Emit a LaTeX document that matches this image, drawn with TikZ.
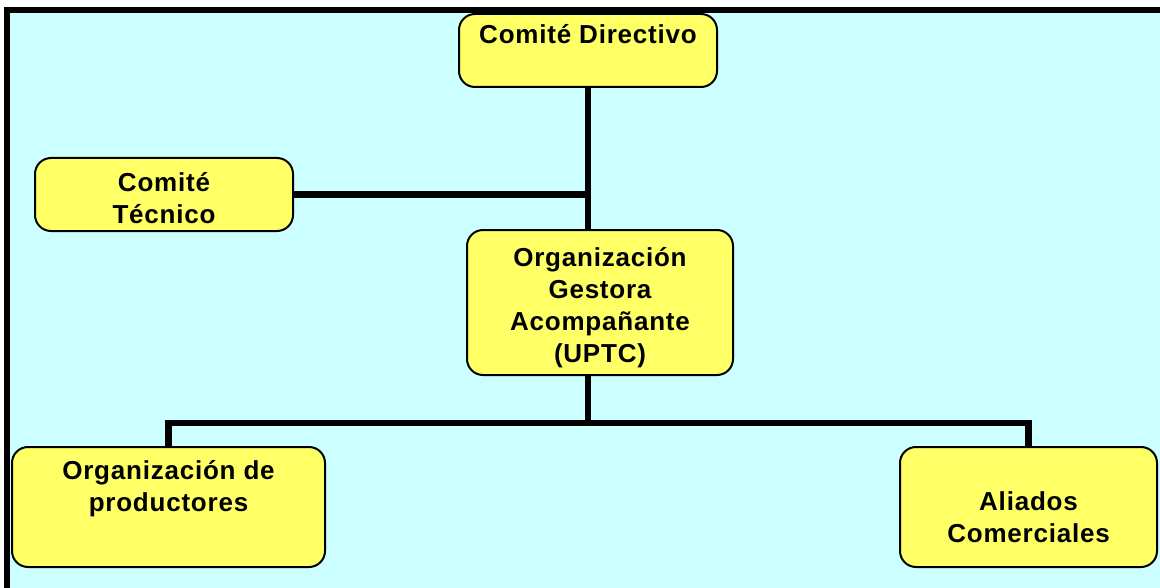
\documentclass[tikz,border=0pt]{standalone}
\usepackage{fontspec}
\setmainfont{Liberation Sans}[LetterSpace=3]
\usepackage{tikz}
\usetikzlibrary{calc}

\definecolor{bgcyan}{HTML}{CCFFFF}
\definecolor{boxyellow}{HTML}{FFFF66}

\newcommand{\orgtext}[2]{\raisebox{#1}[0pt][0pt]{\begin{tabular}{@{}c@{}}#2\end{tabular}}}

\tikzset{
	orgbox/.style={draw=black, line width=1pt, fill=boxyellow, rounded corners=8pt, inner sep=0pt,
		font=\bfseries\fontsize{13}{16}\selectfont},
	link/.style={line width=3.2pt}
}

\begin{document}
\begin{tikzpicture}[x=0.5pt, y=-0.5pt]
	\useasboundingbox (0,0) rectangle (1160,588);

	%Frame
	\fill[black] (4,7) rectangle (1160,588);
	\fill[bgcyan] (10,13) rectangle (1160,588);

	%Boxes
	\node[orgbox, minimum width=129pt, minimum height=36.5pt] (directivo) at (588,50.5) {\orgtext{3.8pt}{Comité Directivo}};
	\node[orgbox, minimum width=129pt, minimum height=36.5pt] (tecnico) at (164,194.5) {\orgtext{-6.4pt}{Comité\\Técnico}};
	\node[orgbox, minimum width=133pt, minimum height=72.5pt] (gestora) at (600,302.5) {\orgtext{-5.9pt}{Organización\\Gestora\\Acompañante\\(UPTC)}};
	\node[orgbox, minimum width=156.5pt, minimum height=60pt] (productores) at (168.5,507) {\orgtext{5.8pt}{Organización de\\productores}};
	\node[orgbox, minimum width=128.5pt, minimum height=60pt] (aliados) at (1028.5,507) {\orgtext{-9.7pt}{Aliados\\Comerciales}};

	%Connectors
	\coordinate (bus) at (588,423);
	\draw[link] (directivo.south) -- (directivo.south |- gestora.north);
	\draw[link] (tecnico.east) -- (tecnico.east -| directivo.south);
	\draw[link] (directivo.south |- gestora.south) -- (bus);
	\draw[link] (productores.north) |- (bus) -| (aliados.north);

\end{tikzpicture}
\end{document}
